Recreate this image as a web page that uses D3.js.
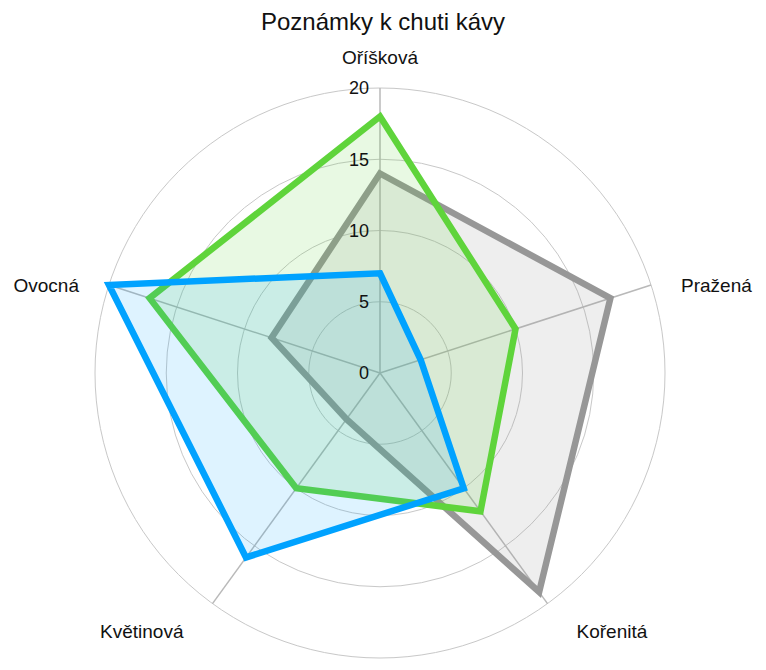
<!DOCTYPE html>
<html lang="cs">
<head>
<meta charset="UTF-8">
<title>Poznámky k chuti kávy</title>
<script src="https://cdn.jsdelivr.net/npm/d3@7/dist/d3.min.js"></script>
<style>
  body { margin: 0; background: #fff; }
  text { font-family: "Liberation Sans", Arial, sans-serif; fill: #111; }
</style>
</head>
<body>
<svg id="main" width="766" height="670"></svg>
<script>
    // data
    const axes = ['Oříšková', 'Pražená', 'Kořenitá', 'Květinová', 'Ovocná'];
    const grayValues = [14, 17, 19, 4, 8];
    const greenValues = [18, 10, 12, 10, 17];
    const blueValues = [7, 3, 10, 16, 20];
    const tickValues = [0, 5, 10, 15, 20];

    const series = [
        {values: grayValues, stroke: '#979797', fill: 'rgba(151,151,151,0.16)'},
        {values: greenValues, stroke: '#5fd43b', fill: 'rgba(95,212,59,0.14)'},
        {values: blueValues, stroke: '#00a2ff', fill: 'rgba(0,162,255,0.13)'}
    ];

    let svg = d3.select('svg#main');
    let cx = 380, cy = 373;
    let outer = 285;

    let r = d3.scaleLinear().domain([0, 20]).range([0, outer]);
    let angle = d3.scalePoint().domain(axes).range([0, 2 * Math.PI * 4 / 5]);

    svg.append('text')
        .attr('x', 383).attr('y', 30)
        .attr('text-anchor', 'middle')
        .style('font-size', '24px')
        .text('Poznámky k chuti kávy');

    let g = svg.append('g').attr('transform', 'translate(' + cx + ',' + cy + ')');

    // rings
    g.selectAll('circle.ring')
        .data(tickValues.filter(d => d > 0))
        .enter().append('circle')
        .attr('class', 'ring')
        .attr('r', d => r(d))
        .attr('fill', 'none')
        .attr('stroke', '#c8c8c8')
        .attr('stroke-width', 1);

    // spokes
    g.selectAll('line.spoke')
        .data(axes)
        .enter().append('line')
        .attr('class', 'spoke')
        .attr('x1', 0).attr('y1', 0)
        .attr('x2', d => Math.sin(angle(d)) * outer)
        .attr('y2', d => -Math.cos(angle(d)) * outer)
        .attr('stroke', '#b9b9b9')
        .attr('stroke-width', 1.5);

    let radar = d3.lineRadial()
        .angle((d, i) => angle(axes[i]))
        .radius(d => r(d))
        .curve(d3.curveLinearClosed);

    series.forEach(s => {
        g.append('path')
            .datum(s.values)
            .attr('d', radar)
            .attr('fill', s.fill)
            .attr('stroke', s.stroke)
            .attr('stroke-width', 6.5)
            .attr('stroke-linejoin', 'miter');
    });

    // tick labels
    g.selectAll('text.tick')
        .data(tickValues)
        .enter().append('text')
        .attr('class', 'tick')
        .attr('x', -11)
        .attr('y', d => -r(d))
        .attr('dy', '0.35em')
        .attr('text-anchor', 'end')
        .style('font-size', '18px')
        .text(d => d);

    // axis labels, placed off the end of each spoke
    function labelPos(d) {
        let a = angle(d);
        let s = Math.sin(a), c = Math.cos(a);
        let x = s * outer, y = -c * outer;
        if (c > 0.9) return [x, y - 31];
        if (c > 0) return [x + Math.sign(s) * 30, y];
        return [x + Math.sign(s) * 29, y + 28];
    }

    g.selectAll('text.axis-label')
        .data(axes)
        .enter().append('text')
        .attr('class', 'axis-label')
        .attr('x', d => labelPos(d)[0])
        .attr('y', d => labelPos(d)[1])
        .attr('dy', '0.35em')
        .attr('text-anchor', d => {
            let x = Math.sin(angle(d));
            return Math.abs(x) < 0.01 ? 'middle' : (x > 0 ? 'start' : 'end');
        })
        .style('font-size', '19px')
        .text(d => d);
</script>
</body>
</html>
